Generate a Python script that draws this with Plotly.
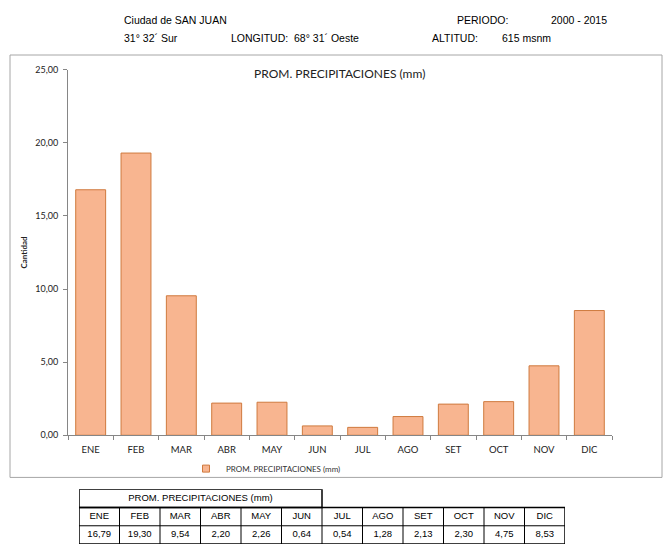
import plotly.graph_objects as go

# Monthly average precipitation, San Juan (2000 - 2015)
meses = ["ENE", "FEB", "MAR", "ABR", "MAY", "JUN", "JUL", "AGO", "SET", "OCT", "NOV", "DIC"]
precip = [16.79, 19.30, 9.54, 2.20, 2.26, 0.64, 0.54, 1.28, 2.13, 2.30, 4.75, 8.53]
serie = "PROM. PRECIPITACIONES (mm)"
y_ticks = [0, 5, 10, 15, 20, 25]

W, H = 663, 552


def px(x):
    return x / W


def py(y):
    return 1 - y / H


FILL = "#F8B590"
EDGE = "#CF7A3E"
AXIS = "#868686"
CAL = "Lato, Open Sans, sans-serif"
ARIAL = "Liberation Sans, Arial, sans-serif"

fig = go.Figure()

fig.add_trace(go.Bar(
    x=meses, y=precip, name=serie,
    marker=dict(color=FILL, line=dict(color=EDGE, width=1)),
    xaxis="x", yaxis="y", showlegend=False,
))
# legend entry with a small square key
fig.add_trace(go.Scatter(
    x=[None], y=[None], name=serie, mode="markers",
    marker=dict(symbol="square", size=7, color=FILL, line=dict(color=EDGE, width=1)),
    xaxis="x", yaxis="y", showlegend=True,
))

# Data table below the chart, drawn on its own 12 x 3 grid
n = len(meses)
tbl_x = [i + 0.5 for i in range(n)]
fig.add_trace(go.Scatter(
    x=tbl_x, y=[1.5] * n, text=meses, mode="text",
    textfont=dict(family=ARIAL, size=9.5, color="#000000"),
    xaxis="x2", yaxis="y2", showlegend=False, hoverinfo="skip",
))
fig.add_trace(go.Scatter(
    x=tbl_x, y=[0.5] * n,
    text=[f"{v:.2f}".replace(".", ",") for v in precip], mode="text",
    textfont=dict(family=ARIAL, size=9.5, color="#000000"),
    xaxis="x2", yaxis="y2", showlegend=False, hoverinfo="skip",
))
fig.add_trace(go.Scatter(
    x=[3], y=[2.5], text=[serie], mode="text",
    textfont=dict(family=ARIAL, size=9.5, color="#000000"),
    xaxis="x2", yaxis="y2", showlegend=False, hoverinfo="skip",
))

shapes = []
# outer frame of the chart area
shapes.append(dict(type="rect", xref="paper", yref="paper",
                   x0=px(10), x1=px(662), y0=py(481), y1=py(50),
                   line=dict(color="#A6A6A6", width=1)))
# table cell grid
for i in range(n + 1):
    shapes.append(dict(type="line", xref="x2", yref="y2", x0=i, x1=i, y0=0, y1=2,
                       line=dict(color="#000000", width=1.5 if i in (0, n) else 1)))
for j, w in ((0, 1.5), (1, 1), (2, 1.5)):
    shapes.append(dict(type="line", xref="x2", yref="y2", x0=0, x1=n, y0=j, y1=j,
                       line=dict(color="#000000", width=w)))
shapes.append(dict(type="rect", xref="x2", yref="y2", x0=0, x1=6, y0=2, y1=3,
                   line=dict(color="#000000", width=1.5)))

annotations = [
    dict(text=serie, xref="paper", yref="paper", x=px(339), y=py(69),
         xanchor="center", yanchor="middle",
         showarrow=False, font=dict(family=CAL, size=12, color="#222222")),
]
header = [
    ("Ciudad de SAN JUAN", 122, 14), ("PERIODO:", 455, 14), ("2000 - 2015", 549, 14),
    ("31° 32´ Sur", 122, 33), ("LONGITUD:", 229, 33), ("68° 31´ Oeste", 292, 33),
    ("ALTITUD:", 430, 33), ("615 msnm", 500, 33),
]
for txt, x, y in header:
    annotations.append(dict(text=txt, xref="paper", yref="paper", x=px(x), y=py(y),
                            xanchor="left", yanchor="middle", showarrow=False,
                            font=dict(family=ARIAL, size=10.5, color="#000000")))

fig.update_layout(
    width=W, height=H, margin=dict(l=0, r=0, t=0, b=0),
    paper_bgcolor="white", plot_bgcolor="white",
    separators=",.",
    bargap=0.34,
    shapes=shapes, annotations=annotations,
    legend=dict(orientation="h", x=px(186), y=py(472), xanchor="left", yanchor="middle",
                font=dict(family=CAL, size=8, color="#333333"),
                itemwidth=30, bgcolor="rgba(0,0,0,0)"),
    xaxis=dict(domain=[px(68), px(612)], type="category",
               showline=True, linecolor=AXIS, linewidth=1,
               ticks="outside", tickson="boundaries", ticklen=4, tickcolor=AXIS,
               ticklabelstandoff=5,
               showgrid=False, zeroline=False,
               tickfont=dict(family=CAL, size=9.5, color="#222222"), anchor="y"),
    yaxis=dict(domain=[py(438), py(65)], range=[0, 25], tickvals=y_ticks,
               tickformat=".2f", showline=True, linecolor=AXIS, linewidth=1,
               ticks="outside", ticklen=4, tickcolor=AXIS, ticklabelstandoff=3,
               showgrid=False, zeroline=False,
               tickfont=dict(family=CAL, size=9, color="#222222"),
               title=dict(text="<b>Cantidad</b>", standoff=6,
                          font=dict(family=CAL, size=8, color="#222222")),
               anchor="x"),
    xaxis2=dict(domain=[px(79), px(565)], range=[0, n], visible=False, anchor="y2"),
    yaxis2=dict(domain=[py(549), py(493)], range=[0, 3], visible=False, anchor="x2"),
)

fig.write_html("out.html")
